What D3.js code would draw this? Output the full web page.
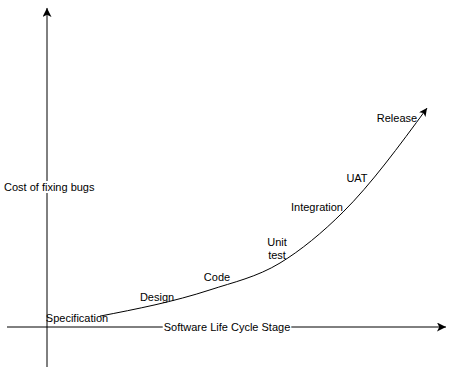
<!DOCTYPE html>
<html>
<head>
<meta charset="utf-8">
<script src="https://cdn.jsdelivr.net/npm/d3@7"></script>
<style>
  body { margin: 0; background: #fff; }
  svg { display: block; font-family: "Liberation Sans", Arial, Helvetica, sans-serif; font-size: 11px; }
</style>
</head>
<body>
<div class="canvas"></div>
<script>
// stages along the life cycle and where their labels sit (x = stage position, y = cost level)
const stages = ["Specification", "Design", "Code", "Unit\ntest", "Integration", "UAT", "Release"];
const labelX = [7.5, 27.5, 42.5, 57.5, 67.5, 77.5, 87.5];
const labelY = [2.8, 9.4, 15.6, 24.5, 37.5, 46.5, 65.3];

// cost curve (relative units)
const curveX = [13.25, 40.75, 58.25, 74, 95];
const curveY = [3.4, 11.6, 20, 35.9, 68.4];

const xTitle = "Software Life Cycle Stage";
const yTitle = "Cost of fixing bugs";

const width = 456;
const height = 376;

const svg = d3
  .select(".canvas")
  .append("svg")
  .attr("width", width)
  .attr("height", height);

//scales
const x = d3.scaleLinear().domain([0, 100]).range([47, 447]);
const y = d3.scaleLinear().domain([0, 100]).range([327, 7]);

//arrow heads
const defs = svg.append("defs");
const marker = (id, w, h) =>
  defs
    .append("marker")
    .attr("id", id)
    .attr("viewBox", "0 0 10 10")
    .attr("refX", 10)
    .attr("refY", 5)
    .attr("markerUnits", "userSpaceOnUse")
    .attr("markerWidth", w)
    .attr("markerHeight", h)
    .attr("orient", "auto")
    .append("path")
    .attr("d", "M0,0 L10,5 L0,10 L2.5,5 Z")
    .attr("fill", "#000");
marker("axisArrow", 10, 9);
marker("curveArrow", 9, 8);

//axes lines
svg
  .append("line")
  .attr("x1", x(-10))
  .attr("x2", x(99.75))
  .attr("y1", y(0))
  .attr("y2", y(0))
  .attr("stroke", "#000")
  .attr("stroke-width", 1)
  .attr("marker-end", "url(#axisArrow)");

svg
  .append("line")
  .attr("x1", x(0))
  .attr("x2", x(0))
  .attr("y1", y(-12.5))
  .attr("y2", y(99.7))
  .attr("stroke", "#000")
  .attr("stroke-width", 1)
  .attr("marker-end", "url(#axisArrow)");

//curve
const line = d3
  .line()
  .x((d) => x(d[0]))
  .y((d) => y(d[1]))
  .curve(d3.curveMonotoneX);

svg
  .append("path")
  .datum(d3.zip(curveX, curveY))
  .attr("fill", "none")
  .attr("stroke", "#000")
  .attr("stroke-width", 1)
  .attr("marker-end", "url(#curveArrow)")
  .attr("d", line);

//stage labels
const labels = svg
  .selectAll(".stage")
  .data(stages)
  .enter()
  .append("text")
  .attr("class", "stage")
  .attr("text-anchor", "middle")
  .attr("fill", "#000");

labels.each(function (d, i) {
  const parts = d.split("\n");
  const t = d3.select(this);
  parts.forEach((p, j) => {
    t.append("tspan")
      .attr("x", x(labelX[i]))
      .attr("y", y(labelY[i]) + 4 + (j - (parts.length - 1) / 2) * 13)
      .text(p);
  });
});

//axis titles with white background
const title = (txt, cx, cy, anchor) => {
  const g = svg.append("g");
  const bg = g.append("rect").attr("fill", "#fff");
  const t = g
    .append("text")
    .attr("x", cx)
    .attr("y", cy + 4)
    .attr("text-anchor", anchor)
    .attr("fill", "#000")
    .text(txt);
  const b = t.node().getBBox();
  bg.attr("x", b.x - 1).attr("y", b.y).attr("width", b.width + 2).attr("height", b.height);
};

title(xTitle, x(45), y(0), "middle");
title(yTitle, 4, 187, "start");
</script>
</body>
</html>
